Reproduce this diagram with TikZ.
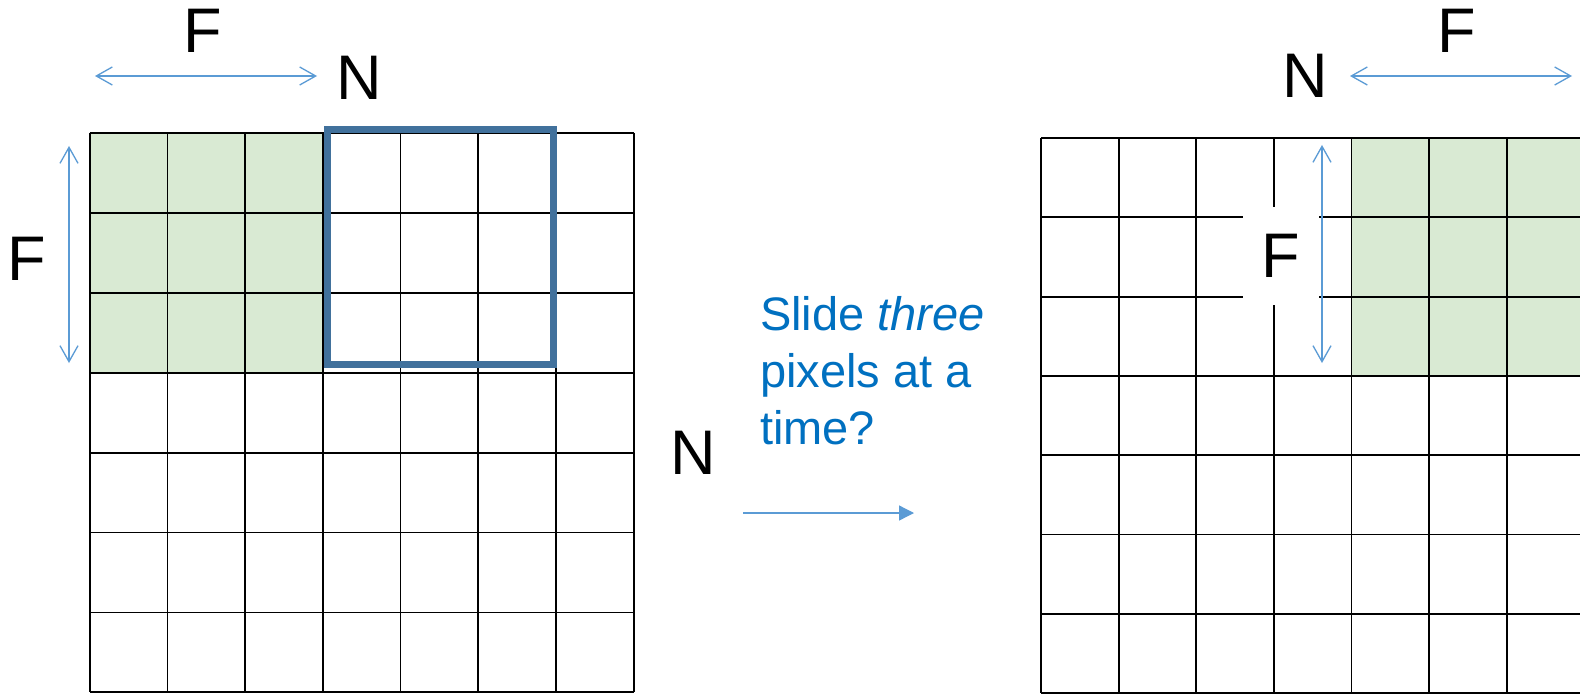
\documentclass[tikz,border=0pt]{standalone}
\usepackage{fontspec}
\setmainfont{Liberation Sans}
\usetikzlibrary{arrows.meta}
\definecolor{cellgreen}{HTML}{D9EAD3}
\definecolor{winblue}{HTML}{41719C}
\definecolor{arrblue}{HTML}{5B9BD5}
\definecolor{txtblue}{HTML}{0070C0}
\begin{document}
\begin{tikzpicture}[x=1pt,y=-1pt,
  gridline/.style={line width=1.8pt, black},
  bigletter/.style={font=\fontsize{63}{70}\selectfont, inner sep=0pt, anchor=base},
  dimarrow/.style={arrblue, line width=1.3pt,
    {Straight Barb[length=16pt,width=18pt]}-{Straight Barb[length=16pt,width=18pt]}},
  slidearrow/.style={arrblue, line width=1.3pt, -{Triangle[length=15pt,width=15pt]}},
  slidetext/.style={font=\fontsize{47}{57}\selectfont, text=txtblue, align=left, inner sep=0pt, anchor=north west}]
\clip (0,0) rectangle (1580,698);
\fill[white] (0,0) rectangle (1580,698);

% ---- left grid ----
\fill[cellgreen] (89.7,133) rectangle (322.8,372.7);
\foreach \i in {0,...,7} \draw[gridline] ({89.7+77.7*\i},133) -- ({89.7+77.7*\i},692.3);
\foreach \j in {0,...,7} \draw[gridline] (89.7,{133+79.9*\j}) -- (633.6,{133+79.9*\j});
\draw[winblue, line width=7pt] (327,130) rectangle (553,364.5);

% ---- right grid ----
\fill[cellgreen] (1351.4,138) rectangle (1600,375.9);
\foreach \i in {0,...,7} \draw[gridline] ({1041+77.6*\i},138) -- ({1041+77.6*\i},693.1);
\foreach \j in {0,...,7} \draw[gridline] (1041,{138+79.3*\j}) -- (1600,{138+79.3*\j});

% ---- labels ----
\node[bigletter] (fl1) at (203,53) {F};
\node[bigletter] (nl1) at (359,100) {N};
\node[bigletter] (fl2) at (27,280) {F};
\node[bigletter] (nl2) at (693,474) {N};
\node[bigletter] (nr1) at (1305,98) {N};
\node[bigletter] (fr1) at (1457,53) {F};
\node[font=\fontsize{63}{70}\selectfont, fill=white, inner sep=0pt,
      minimum width=76pt, minimum height=98pt] (fr2) at (1281,256) {F};

\node[slidetext] (slide) at (760,296) {Slide \textit{three}\\pixels at a\\time?};

% ---- arrows ----
\coordinate (a1) at (95,76);   \coordinate (a2) at (317,76);
\coordinate (b1) at (69,146);  \coordinate (b2) at (69,363);
\coordinate (c1) at (1350,76); \coordinate (c2) at (1572,76);
\coordinate (d1) at (1322,145);\coordinate (d2) at (1322,363);
\coordinate (s1) at (743,513); \coordinate (s2) at (914,513);
\draw[dimarrow] (a1) -- (a2);
\draw[dimarrow] (b1) -- (b2);
\draw[dimarrow] (c1) -- (c2);
\draw[dimarrow] (d1) -- (d2);
\draw[slidearrow] (s1) -- (s2);
\end{tikzpicture}
\end{document}
